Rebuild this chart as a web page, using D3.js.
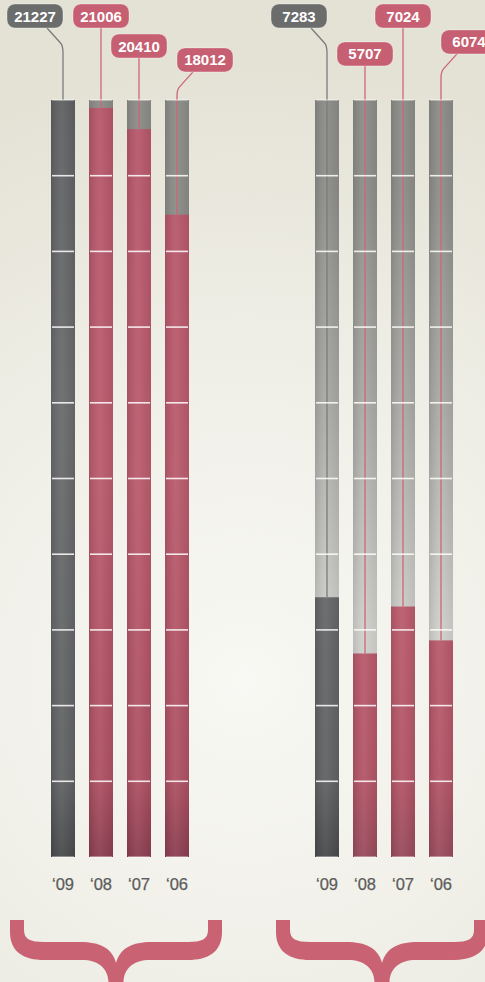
<!DOCTYPE html>
<html>
<head>
<meta charset="utf-8">
<script src="https://cdn.jsdelivr.net/npm/d3@7"></script>
<style>
  html, body { margin: 0; padding: 0; }
  body { width: 485px; height: 982px; overflow: hidden; }
  svg { display: block; }
</style>
</head>
<body>
<svg id="chart" width="485" height="982"></svg>
<script>
// Years shown under each bar, newest first
const years = ["‘09", "‘08", "‘07", "‘06"];
// Left group values
const groupA = [21227, 21006, 20410, 18012];
// Right group values
const groupB = [7283, 5707, 7024, 6074];

// Callout placement per bar: [row, side] (row = vertical level, side -1/0/1 = left/centered/right)
const calloutA = [[0, -1], [0, 0], [1.25, 0], [1.83, 1]];
const calloutB = [[0, -1], [1.58, 0], [0, 0], [1.08, 1]];

const W = 485, H = 982;
const barTop = 100, barBottom = 857;
const pink = "#c65f71", greyLbl = "#6b6c6c";

const svg = d3.select("#chart");
const defs = svg.append("defs");

// page background
const bg = defs.append("radialGradient").attr("id", "bg")
  .attr("gradientUnits", "userSpaceOnUse")
  .attr("cx", 245).attr("cy", 680).attr("r", 620);
bg.append("stop").attr("offset", 0).attr("stop-color", "#f8f8f4");
bg.append("stop").attr("offset", 0.55).attr("stop-color", "#efeee6");
bg.append("stop").attr("offset", 1).attr("stop-color", "#e4e2d5");
svg.append("rect").attr("width", W).attr("height", H).attr("fill", "url(#bg)");

function vGrad(id, stops) {
  const g = defs.append("linearGradient").attr("id", id)
    .attr("gradientUnits", "userSpaceOnUse")
    .attr("x1", 0).attr("x2", 0).attr("y1", barTop).attr("y2", barBottom);
  stops.forEach(s => g.append("stop").attr("offset", s[0]).attr("stop-color", s[1]));
}
vGrad("trackA", [[0, "#8a8b86"], [1, "#8a8b86"]]);
vGrad("trackB", [[0, "#8a8b86"], [0.12, "#8c8d88"], [0.4, "#a8a9a4"], [0.7, "#cfcfcb"], [1, "#d8d8d4"]]);
vGrad("dark", [[0, "#5f6062"], [0.4, "#696a6c"], [0.9, "#606163"], [1, "#48494b"]]);
vGrad("redA", [[0, "#b6566a"], [0.5, "#b95a6c"], [0.9, "#ad5063"], [1, "#8a3d4e"]]);
vGrad("redB", [[0, "#bc5a6d"], [0.5, "#bf5e70"], [0.9, "#b25466"], [1, "#984a5b"]]);
const sheen = defs.append("linearGradient").attr("id", "sheen")
  .attr("x1", 0).attr("x2", 1).attr("y1", 0).attr("y2", 0);
sheen.append("stop").attr("offset", 0).attr("stop-color", "#000").attr("stop-opacity", 0.10);
sheen.append("stop").attr("offset", 0.45).attr("stop-color", "#fff").attr("stop-opacity", 0.06);
sheen.append("stop").attr("offset", 1).attr("stop-color", "#000").attr("stop-opacity", 0.06);

// shared value scale
const y = d3.scaleLinear().domain([0, d3.max(groupA)]).range([barBottom, barTop]);
const gridFractions = d3.range(0, 11).map(k => k / 10);

function drawGroup(values, callouts, x0, x1, trackId, redId, braceCenter) {
  const x = d3.scaleBand().domain(years).range([x0, x1])
    .paddingInner(14 / 38).paddingOuter(0);
  const bw = x.bandwidth();
  const g = svg.append("g");
  const rows = years.map((yr, i) => ({ yr, v: values[i], i, c: callouts[i] }));
  const vmax = y.domain()[1];

  // track behind each bar
  g.selectAll("rect.track").data(rows).join("rect")
    .attr("x", d => x(d.yr)).attr("width", bw)
    .attr("y", y(vmax)).attr("height", y(0) - y(vmax))
    .attr("fill", `url(#${trackId})`);

  // value bars
  g.selectAll("rect.bar").data(rows).join("rect")
    .attr("x", d => x(d.yr)).attr("width", bw)
    .attr("y", d => y(d.v)).attr("height", d => y(0) - y(d.v))
    .attr("fill", d => d.i === 0 ? "url(#dark)" : `url(#${redId})`);

  // subtle horizontal shading
  g.selectAll("rect.sheen").data(rows).join("rect")
    .attr("x", d => x(d.yr)).attr("width", bw)
    .attr("y", y(vmax)).attr("height", y(0) - y(vmax))
    .attr("fill", "url(#sheen)");

  // leader lines from callouts to bar tops
  const boxW = 56, boxH = 24;
  const boxTop = d => 4 + d.c[0] * 24;
  const boxCx = d => x(d.yr) + bw / 2 + d.c[1] * 28;
  g.selectAll("path.leader").data(rows).join("path")
    .attr("fill", "none")
    .attr("stroke", d => d.i === 0 ? "#7b7b7b" : "#cc6676")
    .attr("stroke-width", 1.3)
    .attr("d", d => {
      const bx = x(d.yr) + bw / 2;
      const yb = boxTop(d) + boxH;
      const yEnd = y(d.v);
      if (d.c[1] === 0) return `M${bx},${yb}V${yEnd}`;
      const s = d.c[1];
      const sx = boxCx(d) - s * 12;
      return `M${sx},${yb}L${bx + s * 2.5},${yb + 15}Q${bx},${yb + 18} ${bx},${yb + 24}V${yEnd}`;
    });

  // segment lines across the bars
  const ticks = g.append("g");
  rows.forEach(d => {
    ticks.selectAll(null).data(gridFractions).join("line")
      .attr("x1", x(d.yr) + 1).attr("x2", x(d.yr) + bw - 1)
      .attr("y1", f => y(f * vmax)).attr("y2", f => y(f * vmax))
      .attr("stroke", "#ffffff")
      .attr("stroke-opacity", f => (f === 0 || f === 1) ? 0.45 : 0.85)
      .attr("stroke-width", 1.6);
  });

  // callout boxes
  const lbl = g.selectAll("g.lbl").data(rows).join("g")
    .attr("transform", d => `translate(${boxCx(d) - boxW / 2},${boxTop(d)})`);
  lbl.append("rect").attr("width", boxW).attr("height", boxH).attr("rx", 8)
    .attr("fill", d => d.i === 0 ? greyLbl : pink)
    .attr("stroke", "#ffffff").attr("stroke-opacity", 0.35).attr("stroke-width", 1);
  lbl.append("text").attr("x", boxW / 2).attr("y", 17.5)
    .attr("text-anchor", "middle")
    .attr("font-family", "'Liberation Sans', Arial, Helvetica, sans-serif")
    .attr("font-size", 15).attr("font-weight", "bold")
    .attr("fill", "#ffffff")
    .text(d => d.v);

  // year axis
  const axis = d3.axisBottom(x).tickSize(0).tickPadding(0);
  const ax = g.append("g").attr("transform", `translate(0,${barBottom + 33})`).call(axis);
  ax.select(".domain").remove();
  ax.selectAll("text")
    .attr("dy", 0)
    .attr("font-family", "'Liberation Sans', Arial, Helvetica, sans-serif")
    .attr("font-size", 16.5).attr("fill", "#5c5c5c")
    .attr("stroke", "#5c5c5c").attr("stroke-width", 0.25);

  // curly brace under the group
  const c = braceCenter, L = c - 106, R = c + 106;
  const p = d3.path();
  p.moveTo(L, 920);
  p.lineTo(L, 932);
  p.bezierCurveTo(L, 952, L + 14, 960, L + 34, 960);
  p.lineTo(c - 34, 960);
  p.bezierCurveTo(c - 18, 960, c - 8, 968, c - 7.5, 982);
  p.lineTo(c + 7.5, 982);
  p.bezierCurveTo(c + 8, 968, c + 18, 960, c + 34, 960);
  p.lineTo(R - 34, 960);
  p.bezierCurveTo(R - 14, 960, R, 952, R, 932);
  p.lineTo(R, 920);
  p.lineTo(R - 14, 920);
  p.lineTo(R - 14, 930);
  p.bezierCurveTo(R - 14, 939, R - 20, 942, R - 34, 942);
  p.lineTo(c + 36, 942);
  p.bezierCurveTo(c + 16, 942, c + 4, 948, c, 963);
  p.bezierCurveTo(c - 4, 948, c - 16, 942, c - 36, 942);
  p.lineTo(L + 34, 942);
  p.bezierCurveTo(L + 20, 942, L + 14, 939, L + 14, 930);
  p.lineTo(L + 14, 920);
  p.closePath();
  svg.append("path").attr("d", p.toString()).attr("fill", "#c96273");
}

drawGroup(groupA, calloutA, 51, 189, "trackA", "redA", 116);
drawGroup(groupB, calloutB, 315, 453, "trackB", "redB", 382);
</script>
</body>
</html>
